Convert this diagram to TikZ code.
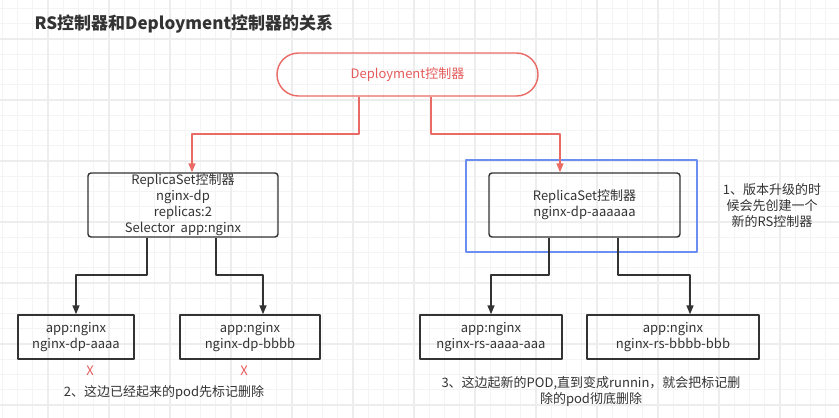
\documentclass[tikz,border=0pt]{standalone}
\usepackage{fontspec}
\setmainfont{Noto Sans CJK SC}
\usetikzlibrary{arrows.meta,calc}
\definecolor{gridmajor}{HTML}{EDEDED}
\definecolor{gridminor}{HTML}{F4F4F4}
\definecolor{redline}{HTML}{EA6B66}
\definecolor{redtext}{HTML}{E55B5B}
\definecolor{blueline}{HTML}{6C8EF2}
\definecolor{darkline}{HTML}{333333}

\begin{document}
\begin{tikzpicture}[x=1pt, y=-1pt, line join=round,
    txt/.style={text=darkline, font=\fontsize{13}{16}\selectfont, align=center},
    box/.style={txt, draw=darkline, line width=1.4pt, inner sep=0pt},
    podbox/.style={box, minimum height=44pt},
    tip/.style={-{Triangle[length=9pt,width=7pt]}, line width=1.4pt},
    redarrow/.style={tip, draw=redline},
    darkarrow/.style={tip, draw=darkline}]
  \useasboundingbox[fill=white] (0,0) rectangle (839,418);
  % background grid
  \foreach \i in {0,...,54} \draw[gridminor, line width=1pt] ({2.25+15.25*\i},0) -- ++(0,418);
  \foreach \i in {0,...,27} \draw[gridminor, line width=1pt] (0,{8.5+15.25*\i}) -- ++(839,0);
  \foreach \i in {0,...,13} \draw[gridmajor, line width=1.4pt] ({48+61*\i},0) -- ++(0,418);
  \foreach \i in {0,...,6} \draw[gridmajor, line width=1.4pt] (0,{39+61*\i}) -- ++(839,0);

  \node[anchor=west, text=darkline, font=\fontsize{17}{20}\selectfont\bfseries] (title) at (31,24.5) {RS控制器和Deployment控制器的关系};

  \node[draw=redline, line width=1.4pt, text=redtext, font=\fontsize{13}{16}\selectfont,
        minimum width=261pt, minimum height=43pt, rounded corners=21.5pt] (dep) at (407.5,74.5) {Deployment控制器};

  \node[box, minimum width=190pt, minimum height=64pt, rounded corners=3pt] (rsL) at (183,205)
    {ReplicaSet控制器\\nginx-dp\\replicas:2\\Selector\ \ app:nginx};
  \node[draw=blueline, line width=1.4pt, minimum width=231pt, minimum height=92pt] (grp) at (581.5,206) {};
  \node[box, minimum width=191pt, minimum height=64pt, rounded corners=3pt] (rsR) at (584.5,205)
    {ReplicaSet控制器\\nginx-dp-aaaaaa};
  \node[txt] (note1) at (772,206) {1、版本升级的时\\候会先创建一个\\新的RS控制器};

  \node[podbox, minimum width=116pt] (pod1) at (76,337) {app:nginx\\nginx-dp-aaaa};
  \node[podbox, minimum width=140pt] (pod2) at (250,337) {app:nginx\\nginx-dp-bbbb};
  \node[podbox, minimum width=142pt] (pod3) at (491,337) {app:nginx\\nginx-rs-aaaa-aaa};
  \node[podbox, minimum width=172pt] (pod4) at (673,337) {app:nginx\\nginx-rs-bbbb-bbb};

  \node[text=redtext, font=\fontsize{13}{16}\selectfont] (x1) at (90,371) {X};
  \node[text=redtext, font=\fontsize{13}{16}\selectfont] (x2) at (244,371) {X};
  \node[txt] (note2) at (164,392) {2、这边已经起来的pod先标记删除};
  \node[txt] (note3) at (591,391) {3、这边起新的POD,直到变成runnin，就会把标记删\\除的pod彻底删除};

  % elbow points
  \coordinate (dL) at (359,134);
  \coordinate (dLe) at (192,134);
  \coordinate (dR) at (431,134);
  \coordinate (dRe) at (560,134);
  \coordinate (aL1) at (147,275);
  \coordinate (aL2) at (216,275);
  \coordinate (aL2e) at (263,275);
  \coordinate (aR1) at (549,275);
  \coordinate (aR2) at (618,275);
  \coordinate (aR2e) at (690,275);

  \draw[redarrow] (dep.south -| dL) -- (dL) -- (dLe) -- (rsL.north -| dLe);
  \draw[redarrow] (dep.south -| dR) -- (dR) -- (dRe) -- (rsR.north -| dRe);

  \draw[darkarrow] (rsL.south -| aL1) -- (aL1) -| (pod1.north);
  \draw[darkarrow] (rsL.south -| aL2) -- (aL2) -- (aL2e) -- (pod2.north -| aL2e);
  \draw[darkarrow] (rsR.south -| aR1) -- (aR1) -| (pod3.north);
  \draw[darkarrow] (rsR.south -| aR2) -- (aR2) -- (aR2e) -- (pod4.north -| aR2e);
\end{tikzpicture}
\end{document}
